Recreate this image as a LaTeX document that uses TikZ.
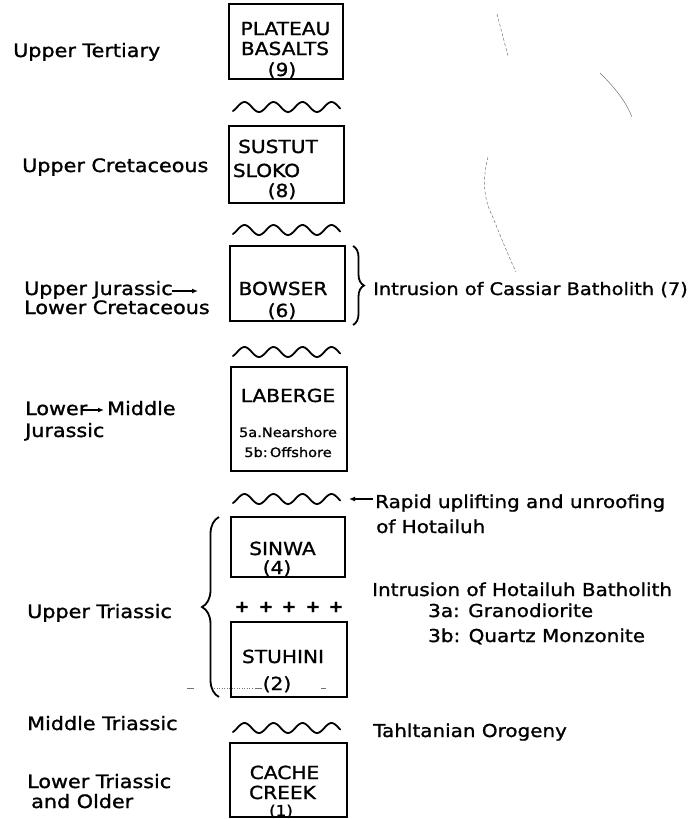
\documentclass[tikz,border=0pt]{standalone}
\usepackage{fontspec}
\setmainfont{DejaVu Sans}[FakeStretch=1.12,FakeBold=1.2]
\usetikzlibrary{decorations.pathreplacing,arrows.meta}
\newcommand\wavyat[2]{\draw[wave] plot[domain=0.1:3.8, samples=80, smooth] ({#1+\x*29}, {#2+5*cos(\x*360)});}
\begin{document}
\begin{tikzpicture}[x=1pt,y=-1pt,
  lbl/.style={inner sep=0pt, anchor=base west, font=\fontsize{18.5}{19}\selectfont},
  rlbl/.style={inner sep=0pt, anchor=base west, font=\fontsize{17.8}{19}\selectfont},
  blbl/.style={inner sep=0pt, anchor=base, font=\fontsize{18}{19}\selectfont},
  slbl/.style={inner sep=0pt, anchor=base, font=\fontsize{13}{14}\selectfont},
  layer/.style={draw, line width=1.8pt, inner sep=0pt},
  wave/.style={line width=1.8pt, line cap=round},
  arr/.style={line width=1.3pt, -{Latex[length=6pt,width=5pt]}},
  plus/.style={inner sep=0pt, font=\bfseries\fontsize{16}{16}\selectfont},
  brc/.style={line width=1.8pt, decorate, decoration={brace, amplitude=#1}},
  scan/.style={black!55, line width=0.5pt}
]
\useasboundingbox (0,0) rectangle (697,819);

% layer boxes
\node[layer, minimum width=114pt, minimum height=75pt] (plateau) at (286,41.5) {};
\node[layer, minimum width=115pt, minimum height=77pt] (sustut) at (286.5,164.5) {};
\node[layer, minimum width=115pt, minimum height=75pt] (bowser) at (287.5,283.5) {};
\node[layer, minimum width=116pt, minimum height=104pt] (laberge) at (289,419) {};
\node[layer, minimum width=114pt, minimum height=60pt] (sinwa) at (288,547) {};
\node[layer, minimum width=116pt, minimum height=75pt] (stuhini) at (289,659.5) {};
\node[layer, minimum width=117pt, minimum height=74pt] (cache) at (288.5,780) {};

% box texts
\node[blbl] (t9a) at (285.5,35) {PLATEAU};
\node[blbl] (t9b) at (285,55) {BASALTS};
\node[blbl] (t9c) at (282,76) {(9)};
\node[blbl] (t8a) at (278,153) {SUSTUT};
\node[blbl] (t8b) at (266.5,177) {SLOKO};
\node[blbl] (t8c) at (282,197) {(8)};
\node[blbl] (t6a) at (283,295) {BOWSER};
\node[blbl] (t6b) at (282,317) {(6)};
\node[blbl] (t5a) at (288,402) {LABERGE};
\node[slbl] (t5b) at (288,437) {5a.Nearshore};
\node[slbl] (t5c) at (288,457) {5b:\,Offshore};
\node[blbl] (t4a) at (282.5,555) {SINWA};
\node[blbl] (t4b) at (277,574) {(4)};
\node[blbl] (t2a) at (283,663) {STUHINI};
\node[blbl] (t2b) at (277,690) {(2)};
\node[blbl] (t1a) at (284.5,779) {CACHE};
\node[blbl] (t1b) at (282.5,799) {CREEK};
\node[blbl, font=\fontsize{15}{15}\selectfont] (t1c) at (281,816) {(1)};

% unconformities
\wavyat{230}{107}
\wavyat{230}{230}
\wavyat{230}{352}
\wavyat{230}{499}
\wavyat{230}{728}

% intrusive contact
\node[plus] (p1) at (242,607) {+};
\node[plus] (p2) at (266,607) {+};
\node[plus] (p3) at (289,607) {+};
\node[plus] (p4) at (313,607) {+};
\node[plus] (p5) at (336,607) {+};

% age labels
\node[lbl] (ut) at (13,57) {Upper Tertiary};
\node[lbl] (uc) at (22,172) {Upper Cretaceous};
\node[lbl] (uj) at (24,295) {Upper Jurassic};
\node[lbl] (lc) at (24,314) {Lower Cretaceous};
\node[lbl] (lo) at (25,415) {Lower};
\node[lbl] (mi) at (107,415) {Middle};
\node[lbl] (ju) at (25,437) {Jurassic};
\node[lbl] (utr) at (27,618) {Upper Triassic};
\node[lbl] (mtr) at (27,730) {Middle Triassic};
\node[lbl] (ltr) at (27,788) {Lower Triassic};
\node[lbl] (ao) at (31,808) {and Older};

\coordinate (uja) at (172,291);
\coordinate (ujb) at (198,291);
\draw[arr] (uja) -- (ujb);
\coordinate (lma) at (82,410);
\coordinate (lmb) at (104,410);
\draw[arr] (lma) -- (lmb);

% event labels
\node[rlbl, font=\fontsize{17.3}{19}\selectfont] (cas) at (373,295) {Intrusion of Cassiar Batholith (7)};
\node[rlbl] (rap) at (375,508) {Rapid uplifting and unroofing};
\node[rlbl] (rap2) at (376,533) {of Hotailuh};
\node[rlbl] (hot) at (372,596) {Intrusion of Hotailuh Batholith};
\node[rlbl] (h3a) at (428,617) {3a: Granodiorite};
\node[rlbl] (h3b) at (428,642) {3b: Quartz Monzonite};
\node[rlbl] (tah) at (373,737) {Tahltanian Orogeny};

\coordinate (rpa) at (373,499);
\coordinate (rpb) at (349,499);
\draw[arr] (rpa) -- (rpb);

% braces
\coordinate (rb1) at (353,246);
\coordinate (rb2) at (353,325);
\draw[brc=11pt] (rb1) -- (rb2);
\coordinate (lb1) at (219,697);
\coordinate (lb2) at (219,517);
\draw[brc=17pt] (lb1) -- (lb2);

% faint marks of the original scan
\draw[scan, densely dashed] (497,14) -- (508,56);
\draw[scan] (600,73) .. controls (615,88) and (625,100) .. (632,117);
\draw[scan, densely dashed] (488,157) .. controls (482,180) and (484,200) .. (492,215) .. controls (500,235) and (508,255) .. (516,272);
\draw[scan] (187,688) -- (194,688);
\draw[scan, dotted] (214,688) -- (252,688);
\draw[scan] (255,688) -- (262,688);
\draw[scan] (321,688) -- (326,688);
\end{tikzpicture}
\end{document}
